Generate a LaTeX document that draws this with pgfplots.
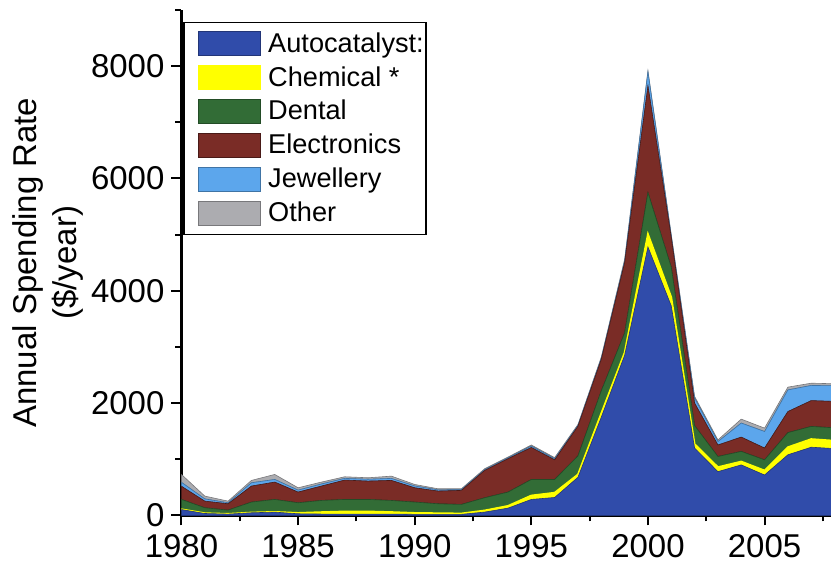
\documentclass[border=0pt]{standalone}
\usepackage{fontspec}
\setmainfont{Liberation Sans}
\usepackage{pgfplots}
\usepackage{pgfplotstable}
\pgfplotsset{compat=1.18}

\definecolor{autoblue}{RGB}{48,76,170}
\definecolor{chemyellow}{RGB}{255,255,0}
\definecolor{dentgreen}{RGB}{50,108,54}
\definecolor{elecred}{RGB}{122,44,38}
\definecolor{jewelblue}{RGB}{92,166,236}
\definecolor{othergrey}{RGB}{172,172,176}

% spending per sector, $/year
\pgfplotstableread{
year auto chem dental elec jewel other
1980 105   5 175  235  70 140
1981  35   5  97  118  40  50
1982  24   4  67  113  18  29
1983  48   4 186  285  59  42
1984  59   4 222  309  47  89
1985  30  15 181  190  35  42
1986  25  34 208  256  37  34
1987  25  46 214  345  30  29
1988  25  46 214  327  33  26
1989  25  35 207  357  36  40
1990  20  25 193  255  32  27
1991  20  20 168  226  21  20
1992  20  15 161  250  14  15
1993  60  29 226  487  13  17
1994 130  40 246  594  15  15
1995 285  70 285  570  25  20
1996 320  85 235  350  20  20
1997 680  50 330  530  15  15
1998 1750 70 400  560  20  20
1999 2850 50 350 1250  30  30
2000 4780 230 740 1900 250 20
2001 3730 155 535 530  30  20
2002 1200 70 330  400  90  30
2003 780  80 190  205  60  30
2004 900  60 180  255 250  70
2005 720  80 190  210 295  60
2006 1080 135 260 375 385  50
2007 1215 145 225 460 270  40
2008 1190 140 230 470 280  35
}\spending

\begin{document}
\begin{tikzpicture}
\begin{axis}[
    scale only axis,
    width=325pt, height=253pt,
    xmin=1980, xmax=2007.84,
    ymin=0, ymax=9000,
    axis x line=bottom, axis y line=left,
    axis line style={-, line width=1.2pt},
    xtick={1980,1985,...,2005},
    minor xtick={1982.5,1987.5,1992.5,1997.5,2002.5,2007.5},
    ytick={0,2000,...,8000},
    minor ytick={1000,3000,5000,7000,9000},
    tick align=outside,
    major tick length=5pt, minor tick length=3pt,
    tick style={line width=1pt, black},
    /pgf/number format/1000 sep={},
    /pgf/number format/assume math mode=true,
    ticklabel style={font=\fontsize{16.5}{19}\selectfont},
    xticklabel style={yshift=-1pt},
    ylabel={Annual Spending Rate\\(\$/year)},
    ylabel style={align=center, font=\fontsize{16.5}{20}\selectfont,
        yshift=-3pt},
    stack plots=y,
    legend cell align=left,
    legend style={
        at={(rel axis cs:0.003,0.977)}, anchor=north west,
        draw=black, line width=0.9pt,
        font=\fontsize{13.6}{16}\selectfont,
        inner xsep=0.5pt, inner ysep=3pt, row sep=1.6pt,
        nodes={inner xsep=0.5pt},
    },
    legend image code/.code={
        \path[draw=none, fill=none] (0pt,0pt) -- (41pt,0pt);
        \draw[#1, line width=0.4pt] (6.5pt,-6pt) rectangle (37.5pt,6pt);
    },
]
\addplot[fill=autoblue, draw=autoblue!70!black, line width=0.3pt]
    table[x=year, y=auto] {\spending} \closedcycle;
\addplot[fill=chemyellow, draw=chemyellow, line width=0.9pt]
    table[x=year, y=chem] {\spending} \closedcycle;
\addplot[fill=dentgreen, draw=dentgreen!70!black, line width=0.3pt]
    table[x=year, y=dental] {\spending} \closedcycle;
\addplot[fill=elecred, draw=elecred!60!black, line width=0.3pt]
    table[x=year, y=elec] {\spending} \closedcycle;
\addplot[fill=jewelblue, draw=jewelblue!70!black, line width=0.3pt]
    table[x=year, y=jewel] {\spending} \closedcycle;
\addplot[fill=othergrey, draw=othergrey!70!black, line width=0.3pt]
    table[x=year, y=other] {\spending} \closedcycle;
\legend{Autocatalyst:, Chemical *, Dental, Electronics, Jewellery, Other}
\end{axis}
\path ([yshift=5pt]current axis.north west) -- ([yshift=5pt]current axis.north east);
\path ([xshift=-3pt]current axis.outer west) -- (current axis.outer west);
\end{tikzpicture}
\end{document}
